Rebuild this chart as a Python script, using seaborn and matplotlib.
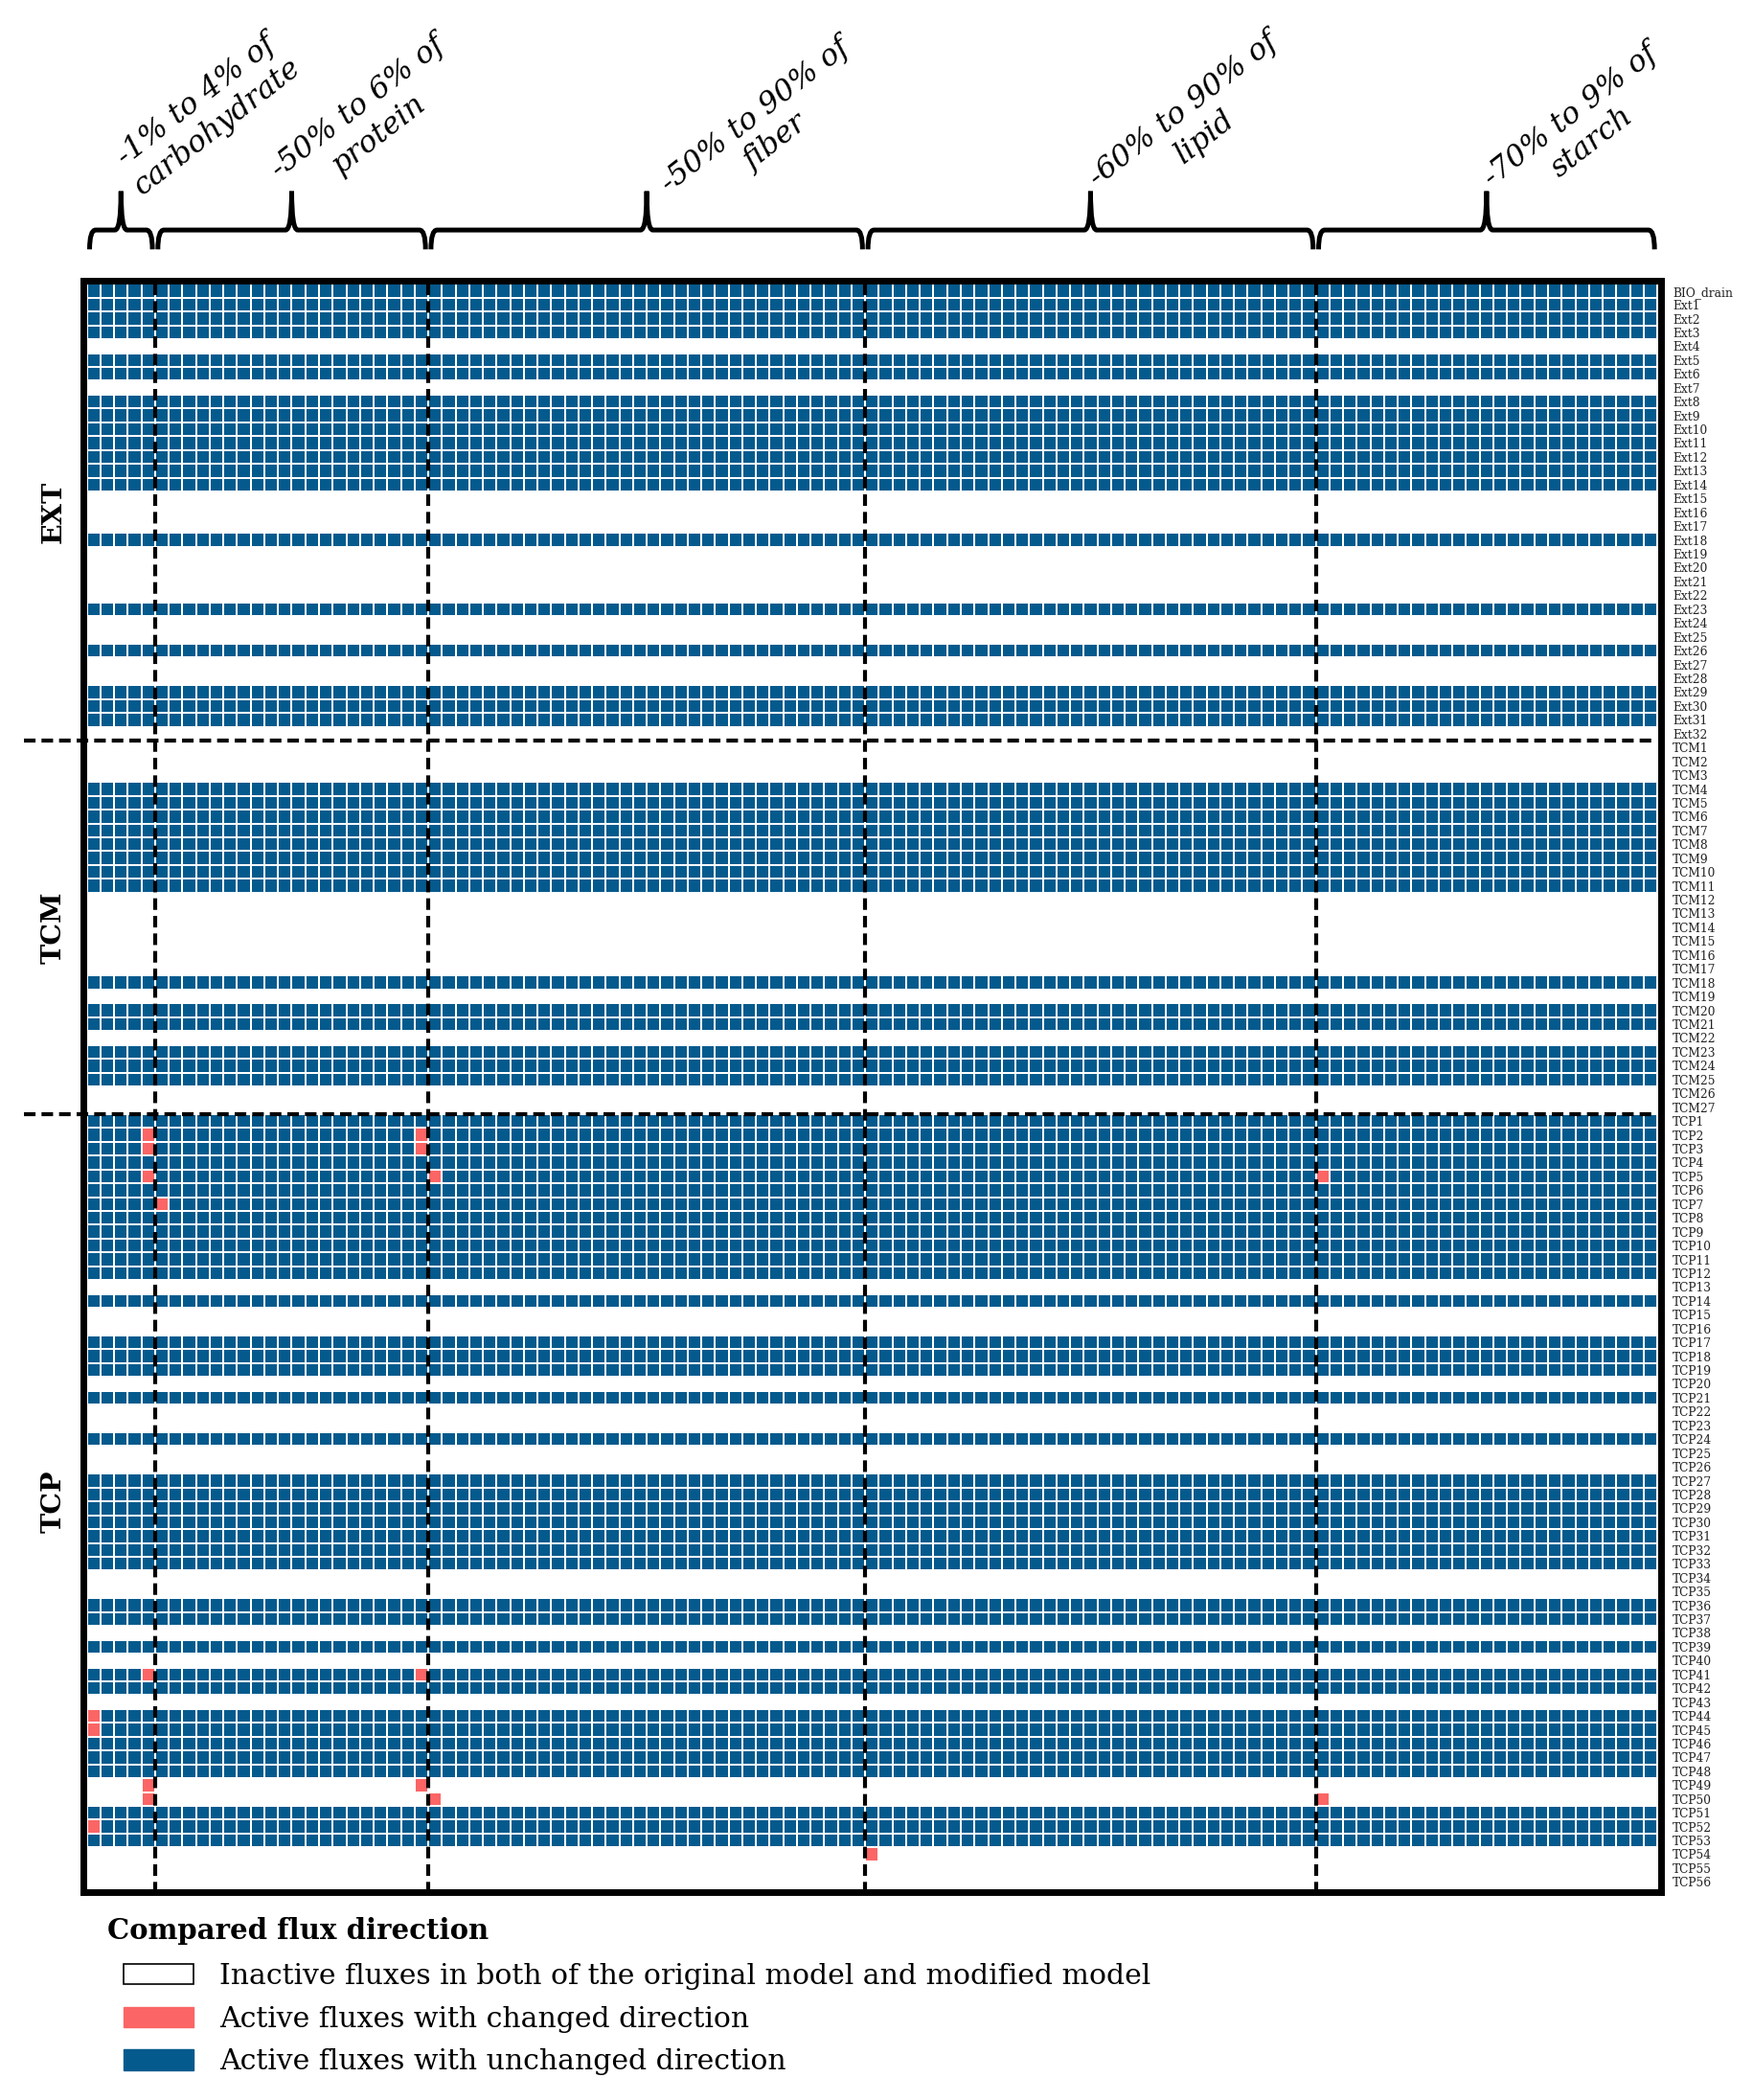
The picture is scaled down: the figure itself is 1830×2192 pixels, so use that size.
import numpy as np
import pandas as pd
import matplotlib
matplotlib.use("Agg")
import matplotlib.pyplot as plt
import seaborn as sns
from matplotlib.colors import ListedColormap
from matplotlib.patches import Patch, PathPatch
from matplotlib.path import Path

# ---- data ----------------------------------------------------------------
groups = ["carbohydrate", "protein", "fiber", "lipid", "starch"]
group_titles = ["-1% to 4% of\ncarbohydrate", "-50% to 6% of\nprotein",
                "-50% to 90% of\nfiber", "-60% to 90% of\nlipid",
                "-70% to 9% of\nstarch"]

# change levels (%) used for each nutrient (one column each)
carb_levels = [-1, 1, 2, 3, 4]
protein_levels = [-50, -40, -30, -20, -10, -9, -8, -7, -6, -5, -4, -3, -2, -1,
                  1, 2, 3, 4, 5, 6]
fiber_levels = [-50, -40, -30, -20, -10, -9, -8, -7, -6, -5, -4, -3, -2, -1,
                1, 2, 3, 4, 5, 6, 7, 8, 9, 10, 20, 30, 40, 50, 60, 70, 80, 90]
lipid_levels = [-60, -50, -40, -30, -20, -10, -9, -8, -7, -6, -5, -4, -3, -2, -1,
                1, 2, 3, 4, 5, 6, 7, 8, 9, 10, 20, 30, 40, 50, 60, 70, 80, 90]
starch_levels = [-70, -60, -50, -40, -30, -20, -10, -9, -8, -7, -6, -5, -4, -3,
                 -2, -1, 1, 2, 3, 4, 5, 6, 7, 8, 9]
levels = [carb_levels, protein_levels, fiber_levels, lipid_levels, starch_levels]

sections = ["EXT", "TCM", "TCP"]
ext_rows = ["BIO_drain"] + ["Ext%d" % i for i in range(1, 33)]
tcm_rows = ["TCM%d" % i for i in range(1, 28)]
tcp_rows = ["TCP%d" % i for i in range(1, 57)]
row_labels = ext_rows + tcm_rows + tcp_rows

# fluxes active in both models (same across all columns)
active_rows = [
    "BIO_drain", "Ext1", "Ext2", "Ext3", "Ext5", "Ext6",
    "Ext8", "Ext9", "Ext10", "Ext11", "Ext12", "Ext13", "Ext14",
    "Ext18", "Ext23", "Ext26", "Ext29", "Ext30", "Ext31",
    "TCM4", "TCM5", "TCM6", "TCM7", "TCM8", "TCM9", "TCM10", "TCM11",
    "TCM18", "TCM20", "TCM21", "TCM23", "TCM24", "TCM25",
    "TCP1", "TCP2", "TCP3", "TCP4", "TCP5", "TCP6", "TCP7", "TCP8", "TCP9",
    "TCP10", "TCP11", "TCP12", "TCP14", "TCP17", "TCP18", "TCP19", "TCP21",
    "TCP24", "TCP27", "TCP28", "TCP29", "TCP30", "TCP31", "TCP32", "TCP33",
    "TCP36", "TCP37", "TCP39", "TCP41", "TCP42",
    "TCP44", "TCP45", "TCP46", "TCP47", "TCP48", "TCP51", "TCP52", "TCP53",
]

# fluxes whose direction changed: (reaction, nutrient, level)
changed = [
    ("TCP2", "carbohydrate", 4), ("TCP2", "protein", 6),
    ("TCP3", "carbohydrate", 4), ("TCP3", "protein", 6),
    ("TCP5", "carbohydrate", 4), ("TCP5", "fiber", -50), ("TCP5", "starch", -70),
    ("TCP7", "protein", -50),
    ("TCP41", "carbohydrate", 4), ("TCP41", "protein", 6),
    ("TCP44", "carbohydrate", -1), ("TCP45", "carbohydrate", -1),
    ("TCP49", "carbohydrate", 4), ("TCP49", "protein", 6),
    ("TCP50", "carbohydrate", 4), ("TCP50", "fiber", -50), ("TCP50", "starch", -70),
    ("TCP52", "carbohydrate", -1),
    ("TCP54", "lipid", -60),
]

legend_title = "Compared flux direction"
legend_labels = ["Inactive fluxes in both of the original model and modified model",
                 "Active fluxes with changed direction",
                 "Active fluxes with unchanged direction"]
WHITE, RED, BLUE = "#ffffff", "#fb6565", "#045a8d"

# ---- build matrix ----------------------------------------------------------
cols = pd.MultiIndex.from_tuples([(g, l) for g, lv in zip(groups, levels) for l in lv])
df = pd.DataFrame(0, index=row_labels, columns=cols)
df.loc[active_rows, :] = 2
for r, g, l in changed:
    df.loc[r, (g, l)] = 1

n_rows, n_cols = df.shape
sizes = [len(lv) for lv in levels]
bounds = np.cumsum([0] + sizes)
sec_sizes = [len(ext_rows), len(tcm_rows), len(tcp_rows)]
sec_bounds = np.cumsum([0] + sec_sizes)

# ---- figure ----------------------------------------------------------------
plt.rcParams["font.family"] = ["DejaVu Serif"]
W, H = 1831, 2192
fig = plt.figure(figsize=(W / 100, H / 100), dpi=100)

x0, x1, y0, y1 = 87.1, 1733.6, 292.8, 1975.2
ax = fig.add_axes([x0 / W, 1 - y1 / H, (x1 - x0) / W, (y1 - y0) / H])

sns.heatmap(df.values, ax=ax, cmap=ListedColormap([WHITE, RED, BLUE]), vmin=-0.5, vmax=2.5,
            cbar=False, linewidths=1.1, linecolor="white",
            xticklabels=False, yticklabels=row_labels)
ax.set_xlim(-0.25, n_cols + 0.25)
ax.set_ylim(n_rows + 0.25, -0.25)
for s in ax.spines.values():
    s.set_visible(True)
    s.set_linewidth(5)
    s.set_color("black")

ax.yaxis.tick_right()
ax.tick_params(axis="y", length=0, pad=9, labelsize=8.8, labelrotation=0, labelcolor="#222222")
ax.tick_params(axis="x", length=0)

dash = (0, (2.9, 1.5))
for b in bounds[1:-1]:
    ax.plot([b, b], [0, n_rows], color="black", lw=3, linestyle=dash)
for b in sec_bounds[1:-1]:
    ax.plot([-4.6, n_cols], [b, b], color="black", lw=3, linestyle=dash, clip_on=False)

for name, a, b in zip(sections, sec_bounds[:-1], sec_bounds[1:]):
    ax.text(-2.45, (a + b) / 2, name, rotation=90, ha="center", va="center",
            fontsize=20.5, fontweight="bold", clip_on=False)


def brace(ax, xa, xb, y_end, y_line, y_tip, r=0.45):
    xm = (xa + xb) / 2
    verts = [(xa, y_end), (xa, y_line), (xa + r, y_line),
             (xm - r, y_line), (xm, y_line), (xm, y_tip),
             (xm, y_line), (xm + r, y_line),
             (xb - r, y_line), (xb, y_line), (xb, y_end)]
    codes = [Path.MOVETO, Path.CURVE3, Path.CURVE3,
             Path.LINETO, Path.CURVE3, Path.CURVE3,
             Path.CURVE3, Path.CURVE3,
             Path.LINETO, Path.CURVE3, Path.CURVE3]
    ax.add_patch(PathPatch(Path(verts, codes), fill=False, lw=3.6, ec="black",
                           clip_on=False, capstyle="butt", joinstyle="miter"))


# label block centres relative to the brace tip (columns / rows)
label_dx = [6.3, 5.6, 8.7, 7.6, 6.9]
label_y = [-12.3, -11.8, -11.2, -11.6, -11.2]
for title, a, b, dx, ly in zip(group_titles, bounds[:-1], bounds[1:], label_dx, label_y):
    brace(ax, a + 0.2, b - 0.2, -2.5, -3.9, -6.7)
    ax.text((a + b) / 2 + dx, ly, title, rotation=38, rotation_mode="anchor",
            ha="center", va="center", multialignment="center", fontsize=22.5,
            style="italic", clip_on=False)

fig.text(112 / W, 1 - 2016 / H, legend_title, ha="left", va="center",
         fontsize=21, fontweight="bold")
handles = [Patch(facecolor=WHITE, edgecolor="black", lw=1.2),
           Patch(facecolor=RED, edgecolor=RED),
           Patch(facecolor=BLUE, edgecolor=BLUE)]
leg = fig.legend(handles, legend_labels, loc="upper left",
                 bbox_to_anchor=(108 / W, 1 - 2028 / H),
                 frameon=False, fontsize=21.5,
                 handlelength=2.45, handleheight=0.72, handletextpad=0.9,
                 labelspacing=0.56, borderpad=0.2)

fig.savefig("out.png", dpi=100)
